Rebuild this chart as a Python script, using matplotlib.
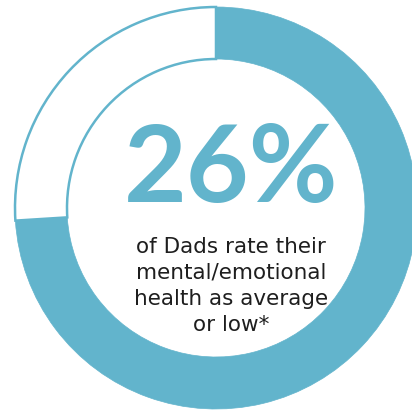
import matplotlib
matplotlib.use('Agg')
import matplotlib.pyplot as plt

# Share of dads rating their mental/emotional health as average or low
share_low = 26
shares = [100 - share_low, share_low]
ring_colors = ['#62b4cc', 'white']
caption_lines = ['of Dads rate their', 'mental/emotional', 'health as average', 'or low*']

blue = '#62b4cc'
W, H = 412, 411

fig = plt.figure(figsize=(W / 100, H / 100), dpi=100)
ax = fig.add_axes([0, 0, 1, 1])

# ring: filled part clockwise from 12 o'clock, the remainder left white with a thin outline
wedges, _ = ax.pie(shares, colors=ring_colors, startangle=90, counterclock=False,
                   center=(216, 203), radius=201,
                   wedgeprops=dict(width=52, linewidth=0))
wedges[0].set_edgecolor(blue)
wedges[0].set_linewidth(0.5)
wedges[1].set_edgecolor(blue)
wedges[1].set_linewidth(1.8)

ax.set_xlim(0, W)
ax.set_ylim(0, H)
ax.set_aspect('equal')
ax.axis('off')

ax.text(231, 209, f'{share_low}%', ha='center', va='baseline', color=blue,
        fontsize=78, fontweight='bold', family='Lato')

base_y = 158
for i, line in enumerate(caption_lines):
    ax.text(231, base_y - i * 26, line, ha='center', va='baseline',
            color='#1e1e1e', fontsize=15.5, family='DejaVu Sans')

fig.savefig('out.png', dpi=100)
